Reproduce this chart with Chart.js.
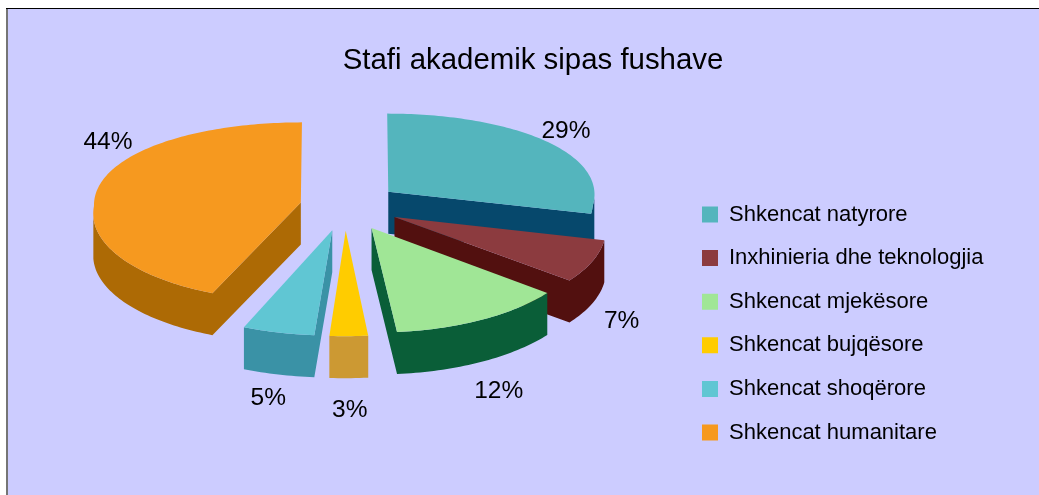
<!DOCTYPE html>
<html>
<head>
<meta charset="utf-8">
<title>Stafi akademik sipas fushave</title>
<script src="https://cdn.jsdelivr.net/npm/chart.js@4"></script>
<style>
  html, body { margin: 0; padding: 0; background: #fff; }
  canvas { display: block; }
</style>
</head>
<body>
<canvas id="myChart" width="1039" height="495"></canvas>
<script>
const categories = ["Shkencat natyrore", "Inxhinieria dhe teknologjia", "Shkencat mjekësore", "Shkencat bujqësore", "Shkencat shoqërore", "Shkencat humanitare"];
const values = [29, 7.2, 12.3, 2.6, 4.9, 44];
const topColors = ["#54B5BD", "#8C3B3F", "#A0E696", "#FFCC00", "#60C6D3", "#F6991F"];
const sideColors = ["#06486C", "#52100F", "#0A5E38", "#CC9933", "#3A92A6", "#AD6A05"];
const explode = [55, 55, 56, 56, 56, 45];
const labelNudge = [[18, -11], [29, 60], [16, 72], [1, 74], [-10, 66], [9, -44]];
const drawOrder = [0, 1, 2, 5, 4, 3];

// view of the pie plane: tilt, perspective distances, wall height
const TILT = 0.43;
const DIST = 2000;
const DIST_BACK_X = 8000;
const DEPTH = 42;
const FONT = "Liberation Sans";

function project(cx, cy, dx, dy, z) {
  const s = 1 / (1 - dy / DIST);
  const sx = dy < 0 ? 1 / (1 - dy / DIST_BACK_X) : s;
  return { x: cx + dx * sx, y: cy + TILT * dy * s + z };
}

function slicePoints(arc, z) {
  const mid = (arc.startAngle + arc.endAngle) / 2;
  const off = arc.options.offset / 4;
  const ox = Math.cos(mid) * off;
  const oy = Math.sin(mid) * off;
  const pts = [project(arc.x, arc.y, ox, oy, z)];
  const steps = Math.ceil((arc.endAngle - arc.startAngle) / 0.02);
  for (let k = 0; k <= steps; k++) {
    const a = arc.startAngle + (arc.endAngle - arc.startAngle) * k / steps;
    pts.push(project(arc.x, arc.y, ox + Math.cos(a) * arc.outerRadius, oy + Math.sin(a) * arc.outerRadius, z));
  }
  return pts;
}

function addPoly(ctx, pts) {
  pts.forEach((p, k) => (k ? ctx.lineTo(p.x, p.y) : ctx.moveTo(p.x, p.y)));
  ctx.closePath();
}

const pie3d = {
  id: "pie3d",
  beforeDraw(chart) {
    const ctx = chart.ctx;
    ctx.save();
    ctx.fillStyle = "#CCCCFF";
    ctx.fillRect(8, 9, 1031, 486);
    ctx.fillStyle = "#000";
    ctx.fillRect(6, 8, 1033, 1);
    ctx.fillStyle = "#757575";
    ctx.fillRect(6, 9, 2, 486);
    ctx.restore();
  },
  afterLayout(chart) {
    // same spots as the original sheet: pie centre, title and legend
    Object.assign(chart.chartArea, { left: 135, right: 555, top: -4, bottom: 416, width: 420, height: 420 });
    const t = chart.titleBlock;
    t.left = 27; t.right = 1039; t.top = 43;
    const l = chart.legend;
    l.left = 680.4; l.right = 1039; l.top = 181.9; l.bottom = 495;
  },
  beforeDatasetsDraw(chart) {
    const ctx = chart.ctx;
    const arcs = chart.getDatasetMeta(0).data;
    ctx.save();
    drawOrder.forEach((i) => {
      const top = slicePoints(arcs[i], 0);
      const bottom = slicePoints(arcs[i], DEPTH);
      // only the edges that face the viewer get a wall, all in one path so no seams show
      ctx.beginPath();
      top.forEach((p, k) => {
        const n = (k + 1) % top.length;
        const ex = top[n].x - p.x;
        const ey = top[n].y - p.y;
        if (-ex > 0.1 * Math.abs(ey)) {
          addPoly(ctx, [p, top[n], bottom[n], bottom[k]]);
        }
      });
      ctx.fillStyle = sideColors[i];
      ctx.fill();
      ctx.beginPath();
      addPoly(ctx, top);
      ctx.fillStyle = topColors[i];
      ctx.fill();
    });
    ctx.restore();
  },
  beforeDatasetDraw() {
    return false;
  },
  afterDatasetsDraw(chart) {
    const ctx = chart.ctx;
    const arcs = chart.getDatasetMeta(0).data;
    ctx.save();
    ctx.font = "24.5px '" + FONT + "'";
    ctx.fillStyle = "#000";
    ctx.textAlign = "center";
    ctx.textBaseline = "middle";
    arcs.forEach((arc, i) => {
      const mid = (arc.startAngle + arc.endAngle) / 2;
      const r = arc.outerRadius + arc.options.offset / 4;
      const p = project(arc.x, arc.y, Math.cos(mid) * r, Math.sin(mid) * r, 0);
      ctx.fillText(Math.round(values[i]) + "%", p.x + labelNudge[i][0], p.y + labelNudge[i][1]);
    });
    ctx.restore();
  },
};

document.addEventListener("DOMContentLoaded", () => {
  const ctx = document.getElementById("myChart");
  new Chart(ctx, {
    type: "pie",
    data: {
      labels: categories,
      datasets: [
        {
          data: values,
          backgroundColor: topColors,
          borderWidth: 0,
          offset: explode.map((v) => v * 4),
          radius: 207,
        },
      ],
    },
    options: {
      responsive: false,
      animation: false,
      plugins: {
        tooltip: { enabled: false },
        title: {
          display: true,
          text: "Stafi akademik sipas fushave",
          color: "#000",
          padding: 0,
          font: { family: FONT, size: 29.4, weight: "normal" },
        },
        legend: {
          position: "right",
          align: "start",
          labels: {
            color: "#000",
            boxWidth: 16,
            boxHeight: 16,
            padding: 21.6,
            font: { family: FONT, size: 22 },
          },
        },
      },
    },
    plugins: [pie3d],
  });
});
</script>
</body>
</html>
